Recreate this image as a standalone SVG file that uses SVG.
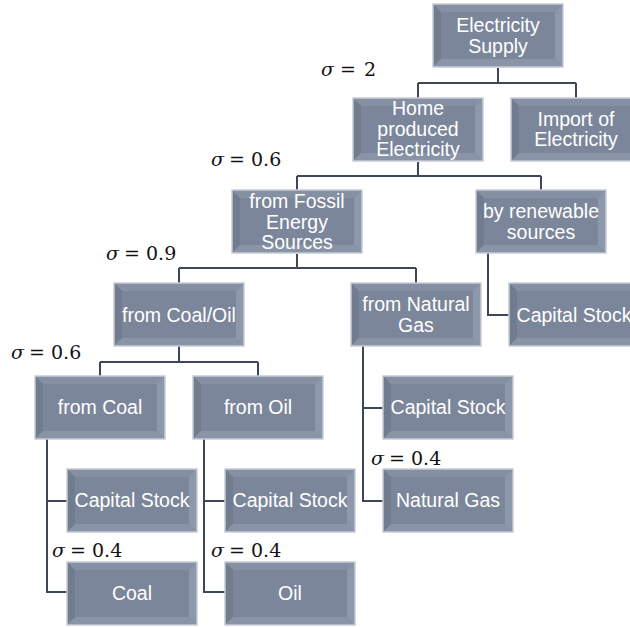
<svg xmlns="http://www.w3.org/2000/svg" xmlns:xlink="http://www.w3.org/1999/xlink" width="630" height="627" viewBox="0 0 630 627">
<style>
.lbl{font-family:"Liberation Sans",Arial,sans-serif;font-size:19.5px;fill:#ffffff;text-anchor:middle}
.sig{font-family:"DejaVu Serif","Liberation Serif",serif;font-size:19px;fill:#111111}
.sig .s{font-style:italic}
.conn{fill:none;stroke:#3d4759;stroke-width:2}
</style>
<defs>
<g id="box">
<rect x="0" y="0" width="130" height="63" fill="#7b869a"/>
<polygon points="0,0 130,0 122,8 8,8" fill="#8590a3"/>
<polygon points="0,0 8,8 8,55 0,63" fill="#717c8f"/>
<polygon points="130,0 130,63 122,55 122,8" fill="#8c98ac"/>
<polygon points="0,63 8,55 122,55 130,63" fill="#8994a7"/>
<rect x="0" y="0" width="130" height="63" fill="none" stroke="#c7ccd5" stroke-width="1.5"/>
</g>
</defs>
<rect width="630" height="627" fill="#ffffff"/>
<g id="connectors" class="conn">
<path d="M498,68 V83 M418,83 H576 M418,83 V98 M576,83 V98"/>
<path d="M418,162 V176 M297,176 H541 M297,176 V190 M541,176 V190"/>
<path d="M297,254 V268 M179,268 H416 M179,268 V283 M416,268 V283"/>
<path d="M488,253 V315 H509"/>
<path d="M179,346 V362 M100,362 H258 M100,362 V376 M258,362 V376"/>
<path d="M363,346 V501 H383 M363,408 H383"/>
<path d="M47,439 V592 H67 M47,501 H67"/>
<path d="M204,439 V592 H225 M204,501 H225"/>
</g>
<g id="n-supply" transform="translate(433,4)"><use xlink:href="#box"/><text class="lbl" x="65" y="28">Electricity</text><text class="lbl" x="65" y="49">Supply</text></g>
<g id="n-home" transform="translate(353,98)"><use xlink:href="#box"/><text class="lbl" x="65" y="17">Home</text><text class="lbl" x="65" y="38">produced</text><text class="lbl" x="65" y="58">Electricity</text></g>
<g id="n-import" transform="translate(511,98)"><use xlink:href="#box"/><text class="lbl" x="65" y="28">Import of</text><text class="lbl" x="65" y="48">Electricity</text></g>
<g id="n-fossil" transform="translate(232,190)"><use xlink:href="#box"/><text class="lbl" x="65" y="18">from Fossil</text><text class="lbl" x="65" y="39">Energy</text><text class="lbl" x="65" y="59">Sources</text></g>
<g id="n-renew" transform="translate(476,190)"><use xlink:href="#box"/><text class="lbl" x="65" y="28">by renewable</text><text class="lbl" x="65" y="49">sources</text></g>
<g id="n-coaloil" transform="translate(114,283)"><use xlink:href="#box"/><text class="lbl" x="65" y="39">from Coal/Oil</text></g>
<g id="n-natgas" transform="translate(351,283)"><use xlink:href="#box"/><text class="lbl" x="65" y="28">from Natural</text><text class="lbl" x="65" y="49">Gas</text></g>
<g id="n-cap-renew" transform="translate(509,283)"><use xlink:href="#box"/><text class="lbl" x="65" y="39">Capital Stock</text></g>
<g id="n-fromcoal" transform="translate(35,376)"><use xlink:href="#box"/><text class="lbl" x="65" y="38">from Coal</text></g>
<g id="n-fromoil" transform="translate(193,376)"><use xlink:href="#box"/><text class="lbl" x="65" y="38">from Oil</text></g>
<g id="n-cap-gas" transform="translate(383,376)"><use xlink:href="#box"/><text class="lbl" x="65" y="38">Capital Stock</text></g>
<g id="n-gas" transform="translate(383,469)"><use xlink:href="#box"/><text class="lbl" x="65" y="38">Natural Gas</text></g>
<g id="n-cap-coal" transform="translate(67,469)"><use xlink:href="#box"/><text class="lbl" x="65" y="38">Capital Stock</text></g>
<g id="n-cap-oil" transform="translate(225,469)"><use xlink:href="#box"/><text class="lbl" x="65" y="38">Capital Stock</text></g>
<g id="n-coal" transform="translate(67,562)"><use xlink:href="#box"/><text class="lbl" x="65" y="38">Coal</text></g>
<g id="n-oil" transform="translate(225,562)"><use xlink:href="#box"/><text class="lbl" x="65" y="38">Oil</text></g>
<g id="sigmas" class="sig">
<text y="76"><tspan class="s" x="321">σ</tspan><tspan x="340">=</tspan><tspan x="364">2</tspan></text>
<text y="166"><tspan class="s" x="211">σ</tspan><tspan x="229">=</tspan><tspan x="251">0.6</tspan></text>
<text y="260"><tspan class="s" x="106">σ</tspan><tspan x="124">=</tspan><tspan x="146">0.9</tspan></text>
<text y="359"><tspan class="s" x="11">σ</tspan><tspan x="29">=</tspan><tspan x="51">0.6</tspan></text>
<text y="557"><tspan class="s" x="52">σ</tspan><tspan x="70">=</tspan><tspan x="92">0.4</tspan></text>
<text y="557"><tspan class="s" x="211">σ</tspan><tspan x="229">=</tspan><tspan x="251">0.4</tspan></text>
<text y="465"><tspan class="s" x="371">σ</tspan><tspan x="389">=</tspan><tspan x="411">0.4</tspan></text>
</g>
</svg>
